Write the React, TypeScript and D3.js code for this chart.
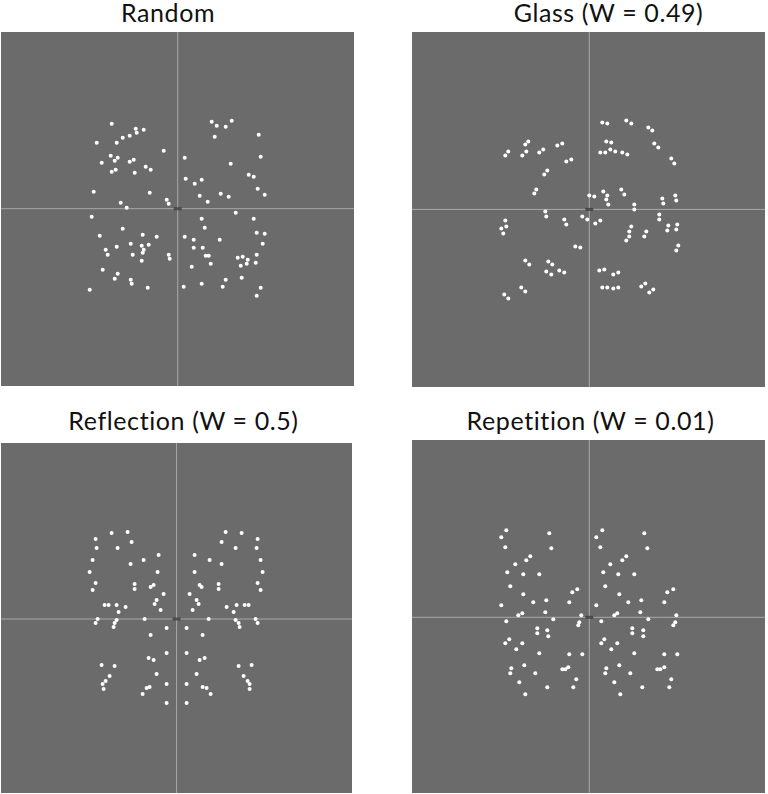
import React from "react";
import * as d3 from "d3";

// dot positions, offset from the fixation cross (x right, y up)
const randomDots: [number, number][] = [
  [-66, 85], [-42, 80], [-34, 79], [-41, 76], [-48, 73], [-55, 71], [-81, 66], [-61, 66],
  [-14, 58], [-67, 53], [-60, 51], [-76, 46], [-63, 48], [-48, 47], [-44, 49], [-32, 42],
  [-27, 39], [-62, 39], [-66, 37], [-43, 36], [-84, 17], [-28, 16], [-57, 6], [-51, 1],
  [-11, 9], [-9, 5], [34, 87], [54, 88], [39, 83], [48, 82], [37, 72], [81, 74],
  [7, 51], [83, 52], [53, 45], [71, 34], [76, 32], [8, 30], [24, 29], [17, 25],
  [80, 20], [22, 13], [43, 15], [51, 12], [87, 14], [30, 7], [58, -4], [-86, -8],
  [-55, -20], [-78, -27], [-35, -26], [-21, -28], [-72, -41], [-61, -38], [-47, -35], [-36, -37],
  [-29, -36], [-34, -41], [-35, -44], [-70, -46], [-45, -46], [-9, -46], [-8, -50], [-36, -52],
  [-75, -61], [-60, -65], [-63, -70], [-47, -71], [-46, -75], [-30, -79], [-88, -81],
  [24, -10], [76, -10], [27, -19], [7, -28], [16, -31], [42, -31], [79, -24], [87, -25],
  [85, -35], [16, -39], [25, -39], [28, -47], [31, -47], [79, -46], [60, -49], [65, -48],
  [70, -51], [78, -54], [33, -55], [63, -57], [69, -55], [14, -58], [48, -71], [64, -69],
  [6, -78], [24, -75], [45, -78], [83, -79], [79, -87],
];

const glassDots: [number, number][] = [
  [13, 87], [18, 86], [37, 89], [42, 86], [59, 82], [63, 79], [-61, 68], [-64, 65],
  [-81, 58], [-84, 54], [-63, 58], [-67, 54], [-32, 64], [-27, 66], [-46, 60], [-50, 57],
  [17, 68], [22, 67], [11, 57], [16, 57], [21, 60], [26, 58], [33, 57], [38, 55],
  [65, 66], [69, 62], [82, 51], [85, 46], [-23, 48], [-18, 50], [-42, 39], [-45, 35],
  [-53, 20], [-55, 16], [0, 14], [5, 13], [14, 18], [18, 14], [17, 10], [19, 5],
  [32, 20], [35, 15], [45, 5], [45, 0], [73, 11], [74, 6], [86, 14], [87, 9],
  [-44, -2], [-43, -7], [-84, -11], [-83, -17], [-88, -19], [-86, -24], [-25, -10], [-23, -15],
  [-7, -7], [-2, -10], [6, -14], [11, -11], [70, -5], [70, -10], [42, -17], [40, -22],
  [40, -27], [37, -31], [57, -22], [55, -27], [79, -16], [78, -21], [88, -15], [87, -20],
  [89, -36], [87, -41], [-14, -37], [-9, -38], [-64, -51], [-60, -55], [-41, -52], [-37, -55],
  [-43, -62], [-38, -65], [-30, -61], [-25, -63], [10, -61], [15, -60], [24, -65], [29, -63],
  [13, -78], [18, -78], [24, -79], [29, -78], [52, -77], [56, -74], [64, -80], [60, -83],
  [-68, -78], [-64, -82], [-85, -85], [-81, -89],
];

const reflectionDots: [number, number][] = [
  [-65, 86], [-49, 87], [-81, 80], [-45, 77], [-80, 71], [-59, 71], [-18, 64], [-33, 59],
  [-46, 55], [-84, 59], [-87, 47], [-19, 47], [-81, 36], [-42, 35], [-42, 30], [-84, 29],
  [-23, 34], [-26, 32], [-13, 25], [-20, 19], [-22, 15], [-16, 9], [-72, 14], [-68, 14],
  [-60, 14], [-51, 12], [-58, 7], [-79, 0], [-81, -4], [-60, -1], [-62, -4], [-32, 0],
  [-63, -8], [-10, -9], [-26, -16], [-10, -34], [-28, -39], [-23, -41], [-75, -46], [-62, -47],
  [-20, -55], [-67, -57], [-71, -62], [-74, -65], [-73, -70], [-10, -65], [-27, -68], [-30, -69],
  [-34, -75], [-10, -84],
  [49, 87], [65, 86], [81, 80], [45, 77], [59, 71], [80, 71], [18, 64], [33, 59],
  [45, 55], [84, 59], [86, 47], [18, 47], [81, 36], [42, 35], [42, 30], [84, 29],
  [23, 34], [25, 32], [13, 25], [20, 19], [22, 15], [16, 9], [50, 12], [60, 14],
  [68, 14], [72, 14], [57, 7], [79, 0], [81, -4], [59, -1], [62, -4], [32, 0],
  [63, -8], [10, -9], [26, -16], [10, -34], [28, -39], [23, -41], [75, -46], [62, -47],
  [20, -55], [67, -57], [71, -62], [73, -65], [73, -70], [10, -65], [26, -68], [30, -69],
  [34, -75], [10, -84],
];

const repetitionDots: [number, number][] = [
  [-83, 87], [-88, 80], [-40, 84], [-84, 70], [-38, 69], [-59, 61], [-63, 57], [-74, 53],
  [-82, 45], [-66, 43], [-50, 43], [-79, 31], [-12, 28], [-17, 25], [-66, 23], [-88, 12],
  [-56, 15], [-43, 17], [-20, 15], [-67, 4], [-71, 2], [-44, 5], [-8, 2], [-83, -4],
  [-36, -2], [-10, -5], [-11, -8], [-52, -11], [-52, -16], [-42, -13], [-41, -19], [-80, -22],
  [-84, -26], [-67, -26], [-73, -32], [-50, -36], [-20, -37], [-7, -37], [-65, -48], [-78, -51],
  [-79, -56], [-54, -56], [-27, -52], [-24, -52], [-21, -50], [-13, -62], [-70, -65], [-42, -70],
  [-16, -70], [-64, -77],
  [13, 87], [7, 80], [55, 84], [11, 70], [58, 69], [37, 61], [33, 57], [21, 53],
  [14, 45], [29, 43], [45, 43], [16, 31], [84, 28], [78, 25], [30, 23], [7, 12],
  [39, 15], [52, 17], [75, 15], [28, 4], [25, 2], [51, 5], [87, 2], [12, -4],
  [59, -2], [86, -5], [84, -8], [43, -11], [43, -16], [54, -13], [54, -19], [15, -22],
  [12, -26], [28, -26], [22, -32], [45, -36], [75, -37], [88, -37], [30, -48], [17, -51],
  [16, -56], [41, -56], [68, -52], [71, -52], [75, -50], [82, -62], [25, -65], [53, -70],
  [80, -70], [31, -77],
];

const titles = ["Random", "Glass (W = 0.49)", "Reflection (W = 0.5)", "Repetition (W = 0.01)"];

const panels = [
  { x0: 1, y0: 32, x1: 354, y1: 386, cx: 177.7, cy: 208.7, tx: 168, ty: 22, dots: randomDots },
  { x0: 412, y0: 32, x1: 765, y1: 387, cx: 589.3, cy: 209.4, tx: 608.5, ty: 22, dots: glassDots },
  { x0: 1, y0: 443, x1: 352, y1: 793, cx: 176.6, cy: 619, tx: 183.5, ty: 429.5, dots: reflectionDots },
  { x0: 412, y0: 440, x1: 765, y1: 793, cx: 589.3, cy: 617.3, tx: 590.5, ty: 429.5, dots: repetitionDots },
];

const Panel = ({ p, title }) => {
  const x = d3.scaleLinear().domain([-100, 100]).range([p.cx - 100, p.cx + 100]);
  const y = d3.scaleLinear().domain([-100, 100]).range([p.cy + 100, p.cy - 100]);
  return (
    <g>
      <text
        x={p.tx}
        y={p.ty}
        textAnchor="middle"
        fontFamily="Lato, 'Open Sans', sans-serif"
        fontSize={25}
        letterSpacing={0.6}
        fill="#111"
      >
        {title}
      </text>
      <rect x={p.x0} y={p.y0} width={p.x1 - p.x0} height={p.y1 - p.y0} fill="#6b6b6b" />
      <line x1={x(0)} x2={x(0)} y1={p.y0} y2={p.y1} stroke="#a9a9a9" strokeWidth={1} />
      <line x1={p.x0} x2={p.x1} y1={y(0)} y2={y(0)} stroke="#a9a9a9" strokeWidth={1} />
      {/* fixation mark */}
      <rect x={x(0) - 4} y={y(0) - 1.5} width={8} height={3} fill="#3c3c3c" opacity={0.8} />
      {p.dots.map((d, i) => (
        <circle key={i} cx={x(d[0])} cy={y(d[1])} r={2} fill="#fff" />
      ))}
    </g>
  );
};

export default function App() {
  return (
    <svg
      width={768}
      height={794}
      style={{ position: "absolute", left: 0, top: 0, background: "#fff" }}
    >
      {panels.map((p, i) => (
        <Panel key={i} p={p} title={titles[i]} />
      ))}
    </svg>
  );
}
